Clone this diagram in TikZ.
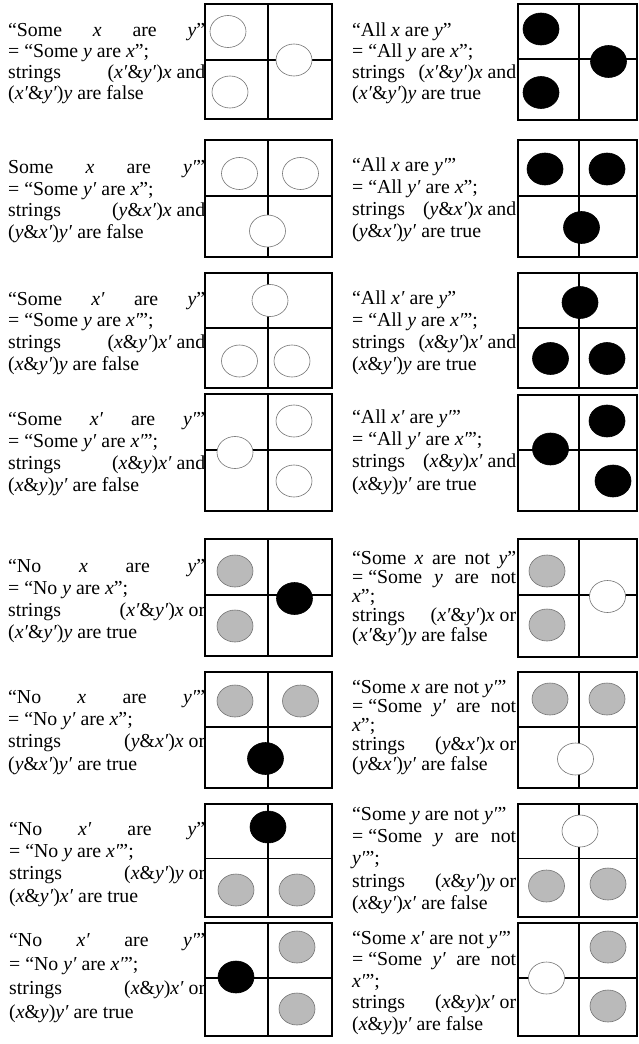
\documentclass[tikz,border=0pt]{standalone}
\usepackage{fontspec}
\setmainfont{Liberation Serif}
\usetikzlibrary{shapes.geometric}
\tikzset{
  boxline/.style={draw=black, line width=1.4pt},
  txt/.style={inner sep=0pt, anchor=base west, font=\fontsize{19.8pt}{21pt}\selectfont},
  dot/.style={ellipse, inner sep=0pt, minimum width=36pt, minimum height=32pt},
  wc/.style={dot, draw=black!55, fill=white, line width=0.6pt},
  bc/.style={dot, draw=black, fill=black, line width=0.6pt},
  gc/.style={dot, draw=black!55, fill=black!27, line width=0.6pt}
}
\newcommand{\gbox}[6]{%
  \draw[boxline] (#1,#4) rectangle (#2,#6);
  \draw[boxline] (#3,#4) -- (#3,#6);
  \draw[boxline] (#1,#5) -- (#2,#5);}
\newcommand{\ix}{\textit{x}}
\newcommand{\iy}{\textit{y}}
\newcommand{\ixp}{\textit{x′}}
\newcommand{\iyp}{\textit{y′}}
\newcommand{\jL}[1]{\hbox to 197pt{#1}}
\newcommand{\jR}[1]{\hbox to 164pt{#1}}
\begin{document}
\begin{tikzpicture}[x=1pt,y=-1pt]
\useasboundingbox (0,0) rectangle (639,1044);
% ---------- boxes ----------
\gbox{205}{332}{268}{4}{60}{119}
\gbox{518}{637}{579}{4}{59}{120}
\gbox{205}{332}{268}{140}{196}{257}
\gbox{518}{637}{579}{140}{196}{257}
\gbox{205}{332}{268}{273}{328}{388}
\gbox{518}{637}{579}{273}{328}{388}
\gbox{205}{332}{268}{394}{450}{511}
\gbox{518}{637}{579}{395}{450}{511}
\gbox{205}{332}{268}{539}{595}{656}
\gbox{518}{637}{579}{539}{595}{657}
\gbox{205}{332}{268}{672}{727}{788}
\gbox{518}{637}{579}{672}{727}{788}
\gbox{205}{332}{268}{804}{858.5}{917}
\gbox{518}{637}{579}{804}{858.5}{917}
\gbox{205}{332}{268}{923}{978}{1036}
\gbox{518}{637}{579}{923}{978}{1036}
% ---------- circles ----------
\node[wc] (c1a) at (228,31.5) {}; \node[wc] (c1b) at (230,92) {}; \node[wc] (c1c) at (294,60) {};
\node[bc] (d1a) at (541,29) {}; \node[bc] (d1b) at (541,92.5) {}; \node[bc] (d1c) at (608.5,61.5) {};
\node[wc] (c2a) at (239.5,173.5) {}; \node[wc] (c2b) at (300.5,173.5) {}; \node[wc] (c2c) at (267.5,231) {};
\node[bc] (d2a) at (545,169) {}; \node[bc] (d2b) at (607,169) {}; \node[bc] (d2c) at (581.5,227.5) {};
\node[wc] (c3a) at (270,300.5) {}; \node[wc] (c3b) at (239.5,361) {}; \node[wc] (c3c) at (292,361) {};
\node[bc] (d3a) at (580,302.5) {}; \node[bc] (d3b) at (550.5,358.5) {}; \node[bc] (d3c) at (607,358.5) {};
\node[wc] (c4a) at (235,452.5) {}; \node[wc] (c4b) at (294,421) {}; \node[wc] (c4c) at (294,481) {};
\node[bc] (d4a) at (550.5,449) {}; \node[bc] (d4b) at (607,421) {}; \node[bc] (d4c) at (613,481) {};
\node[gc] (c5a) at (235,571) {}; \node[gc] (c5b) at (235,626) {}; \node[bc] (c5c) at (294.5,598.5) {};
\node[gc] (d5a) at (547,571) {}; \node[gc] (d5b) at (547,625) {}; \node[wc] (d5c) at (607.5,596.5) {};
\node[gc] (c6a) at (235,701) {}; \node[gc] (c6b) at (300.5,701) {}; \node[bc] (c6c) at (265.5,758.5) {};
\node[gc] (d6a) at (550,699) {}; \node[gc] (d6b) at (607,699) {}; \node[wc] (d6c) at (575.5,759) {};
\node[bc] (c7a) at (268,827) {}; \node[gc] (c7b) at (236,890) {}; \node[gc] (c7c) at (297,890) {};
\node[wc] (d7a) at (580,831) {}; \node[gc] (d7b) at (546.5,886) {}; \node[gc] (d7c) at (608,884) {};
\node[bc] (c8a) at (236,977) {}; \node[gc] (c8b) at (297,947) {}; \node[gc] (c8c) at (297,1009) {};
\node[wc] (d8a) at (546.5,978) {}; \node[gc] (d8b) at (608,947) {}; \node[gc] (d8c) at (608,1006) {};
% ---------- texts, row 1 ----------
\node[txt] (t1a) at (8,36.5) {\jL{“Some\hfill\ix\hfill are\hfill\iy”}};
\node[txt] (t1b) at (8,57.5) {= “Some \iy\ are \ix”;};
\node[txt] (t1c) at (8,78.5) {\jL{strings\hfill(\ixp\&\iyp)\ix\ and}};
\node[txt] (t1d) at (8,99.5) {(\ixp\&\iyp)\iy\ are false};
\node[txt] (u1a) at (352,36.5) {“All \ix\ are \iy”};
\node[txt] (u1b) at (352,57.5) {= “All \iy\ are \ix”;};
\node[txt] (u1c) at (352,78.5) {\jR{strings\hfill(\ixp\&\iyp)\ix\ and}};
\node[txt] (u1d) at (352,99.5) {(\ixp\&\iyp)\iy\ are true};
% row 2
\node[txt] (t2a) at (8,173) {\jL{Some\hfill\ix\hfill are\hfill\iyp”}};
\node[txt] (t2b) at (8,195) {= “Some \iyp\ are \ix”;};
\node[txt] (t2c) at (8,216.5) {\jL{strings\hfill(\iy\&\ixp)\ix\ and}};
\node[txt] (t2d) at (8,238) {(\iy\&\ixp)\iyp\ are false};
\node[txt] (u2a) at (352,171) {“All \ix\ are \iyp”};
\node[txt] (u2b) at (352,193) {= “All \iyp\ are \ix”;};
\node[txt] (u2c) at (352,215) {\jR{strings\hfill(\iy\&\ixp)\ix\ and}};
\node[txt] (u2d) at (352,237) {(\iy\&\ixp)\iyp\ are true};
% row 3
\node[txt] (t3a) at (8,305) {\jL{“Some\hfill\ixp\hfill are\hfill\iy”}};
\node[txt] (t3b) at (8,326.7) {= “Some \iy\ are \ixp”;};
\node[txt] (t3c) at (8,348.3) {\jL{strings\hfill(\ix\&\iyp)\ixp\ and}};
\node[txt] (t3d) at (8,370) {(\ix\&\iyp)\iy\ are false};
\node[txt] (u3a) at (352,304) {“All \ixp\ are \iy”};
\node[txt] (u3b) at (352,326) {= “All \iy\ are \ixp”;};
\node[txt] (u3c) at (352,348) {\jR{strings\hfill(\ix\&\iyp)\ixp\ and}};
\node[txt] (u3d) at (352,370) {(\ix\&\iyp)\iy\ are true};
% row 4
\node[txt] (t4a) at (8,425.5) {\jL{“Some\hfill\ixp\hfill are\hfill\iyp”}};
\node[txt] (t4b) at (8,447.5) {= “Some \iyp\ are \ixp”;};
\node[txt] (t4c) at (8,469.5) {\jL{strings\hfill(\ix\&\iy)\ixp\ and}};
\node[txt] (t4d) at (8,491.5) {(\ix\&\iy)\iyp\ are false};
\node[txt] (u4a) at (352,423) {“All \ixp\ are \iyp”};
\node[txt] (u4b) at (352,445) {= “All \iyp\ are \ixp”;};
\node[txt] (u4c) at (352,467.5) {\jR{strings\hfill(\ix\&\iy)\ixp\ and}};
\node[txt] (u4d) at (352,490) {(\ix\&\iy)\iyp\ are true};
% row 5
\node[txt] (t5a) at (8,572) {\jL{“No\hfill\ix\hfill are\hfill\iy”}};
\node[txt] (t5b) at (8,594) {= “No \iy\ are \ix”;};
\node[txt] (t5c) at (8,616) {\jL{strings\hfill(\ixp\&\iyp)\ix\ or}};
\node[txt] (t5d) at (8,638) {(\ixp\&\iyp)\iy\ are true};
\node[txt] (u5a) at (352,564) {\jR{“Some\hfill\ix\hfill are\hfill not\hfill\iy”}};
\node[txt] (u5b) at (352,583) {\jR{= “Some\hfill\iy\hfill are\hfill not}};
\node[txt] (u5c) at (352,602.5) {\ix”;};
\node[txt] (u5d) at (352,621.5) {\jR{strings\hfill(\ixp\&\iyp)\ix\ or}};
\node[txt] (u5e) at (352,641) {(\ixp\&\iyp)\iy\ are false};
% row 6
\node[txt] (t6a) at (8,703) {\jL{“No\hfill\ix\hfill are\hfill\iyp”}};
\node[txt] (t6b) at (8,725) {= “No \iyp\ are \ix”;};
\node[txt] (t6c) at (8,747.5) {\jL{strings\hfill(\iy\&\ixp)\ix\ or}};
\node[txt] (t6d) at (8,770) {(\iy\&\ixp)\iyp\ are true};
\node[txt] (u6a) at (352,693) {“Some \ix\ are not \iyp”};
\node[txt] (u6b) at (352,712) {\jR{= “Some\hfill\iyp\hfill are\hfill not}};
\node[txt] (u6c) at (352,731.5) {\ix”;};
\node[txt] (u6d) at (352,750.5) {\jR{strings\hfill(\iy\&\ixp)\ix\ or}};
\node[txt] (u6e) at (352,770) {(\iy\&\ixp)\iyp\ are false};
% row 7
\node[txt] (t7a) at (9,835) {\hbox to 196pt{“No\hfill\ixp\hfill are\hfill\iy”}};
\node[txt] (t7b) at (9,857) {= “No \iy\ are \ixp”;};
\node[txt] (t7c) at (9,879.5) {\hbox to 196pt{strings\hfill(\ix\&\iyp)\iy\ or}};
\node[txt] (t7d) at (9,902) {(\ix\&\iyp)\ixp\ are true};
\node[txt] (u7a) at (352,820) {“Some \iy\ are not \iyp”};
\node[txt] (u7b) at (352,842) {\jR{= “Some\hfill\iy\hfill are\hfill not}};
\node[txt] (u7c) at (352,864.5) {\iyp”;};
\node[txt] (u7d) at (352,887) {\jR{strings\hfill(\ix\&\iyp)\iy\ or}};
\node[txt] (u7e) at (352,909.5) {(\ix\&\iyp)\ixp\ are false};
% row 8
\node[txt] (t8a) at (9,946) {\hbox to 196pt{“No\hfill\ixp\hfill are\hfill\iyp”}};
\node[txt] (t8b) at (9,970) {= “No \iyp\ are \ixp”;};
\node[txt] (t8c) at (9,994) {\hbox to 196pt{strings\hfill(\ix\&\iy)\ixp\ or}};
\node[txt] (t8d) at (9,1018) {(\ix\&\iy)\iyp\ are true};
\node[txt] (u8a) at (352,944) {“Some \ixp\ are not \iyp”};
\node[txt] (u8b) at (352,965.5) {\jR{= “Some\hfill\iyp\hfill are\hfill not}};
\node[txt] (u8c) at (352,987) {\ixp”;};
\node[txt] (u8d) at (352,1008.5) {\jR{strings\hfill(\ix\&\iy)\ixp\ or}};
\node[txt] (u8e) at (352,1030) {(\ix\&\iy)\iyp\ are false};
\end{tikzpicture}
\end{document}
